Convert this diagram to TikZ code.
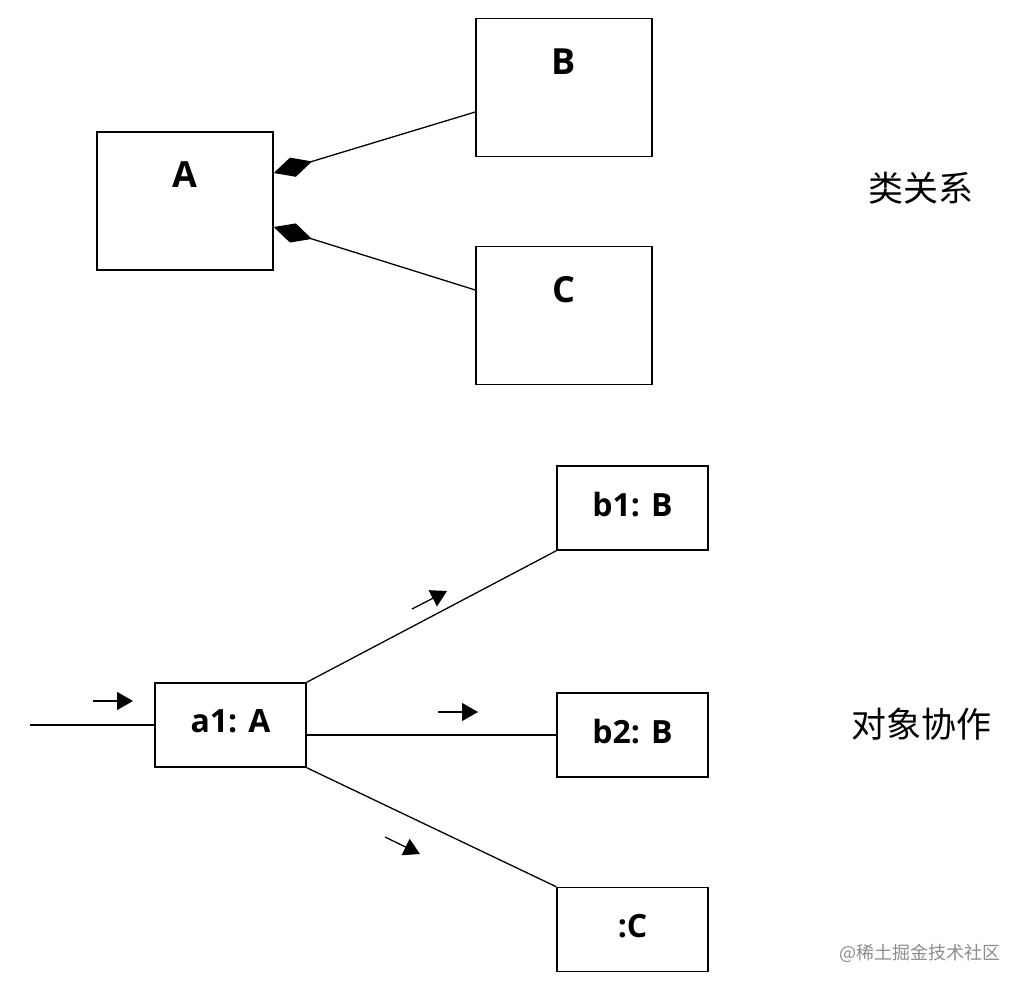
\documentclass[tikz,border=0pt]{standalone}
\usepackage{fontspec}
\setsansfont{Open Sans}
\newfontfamily\cjk{Noto Sans CJK SC}
\usetikzlibrary{positioning,arrows.meta}

\begin{document}
\begin{tikzpicture}[
  x=0.5pt, y=-0.5pt,
  font=\sffamily\bfseries,
  cls/.style={rectangle, draw=black, line width=0.75pt, minimum width=88pt, minimum height=69pt, inner sep=0pt},
  obj/.style={rectangle, draw=black, line width=0.75pt, minimum width=75.5pt, minimum height=42pt, inner sep=0pt, text depth=4pt, font=\sffamily\bfseries\fontsize{16}{18}\selectfont},
  lbl/.style={inner sep=0pt, font=\sffamily\bfseries\fontsize{18}{20}\selectfont},
  link/.style={draw=black, line width=0.65pt},
  comp/.style={link, -{Diamond[length=20pt, width=10pt]}},
  msg/.style={draw=black, line width=0.65pt, -{Triangle[length=8pt, width=9pt]}},
  side/.style={inner sep=0pt, font=\cjk\fontsize{17.5}{20}\selectfont}
]
\useasboundingbox (0,0) rectangle (1027,989);

% class diagram
\node[cls] (A) at (185,201)   {};
\node[cls] (B) at (564,87.5)  {};
\node[cls] (C) at (564,315.5) {};
\node[lbl] (Alab) at (185,174.5) {A};
\node[lbl] (Blab) at (564,61.5)  {B};
\node[lbl] (Clab) at (564,289.5) {C};

\draw[comp] ([yshift=-12.25pt]B.west) -- ([yshift=14pt]A.east);
\draw[comp] ([yshift=12.75pt]C.west)  -- ([yshift=-13pt]A.east);

\node[side] (cls) at (921,188) {类关系};

% object collaboration
\node[obj] (a1) at (230.5,725) {a1: A};
\node[obj] (b1) at (632.5,508) {b1: B};
\node[obj] (b2) at (632.5,735) {b2: B};
\node[obj] (c)  at (632.5,929.5) {:C};

\coordinate (in) at (30,725);
\draw[link] (in) -- (a1.west);
\draw[link] (a1.north east) -- (b1.south west);
\draw[link] (a1.east |- b2.west) -- (b2.west);
\draw[link] (a1.south east) -- (c.north west);

\coordinate (m0s) at (93,701);  \coordinate (m0e) at (133,701);
\coordinate (m1s) at (412,609); \coordinate (m1e) at (447,591);
\coordinate (m2s) at (438,712); \coordinate (m2e) at (478,712);
\coordinate (m3s) at (385,837); \coordinate (m3e) at (420,854);
\draw[msg] (m0s) -- (m0e);
\draw[msg] (m1s) -- (m1e);
\draw[msg] (m2s) -- (m2e);
\draw[msg] (m3s) -- (m3e);

\node[side] (obj) at (921,724) {对象协作};

\node[inner sep=0pt, text=black!45, font=\cjk\fontsize{9}{10}\selectfont] (wm) at (920,953) {@稀土掘金技术社区};
\end{tikzpicture}
\end{document}
